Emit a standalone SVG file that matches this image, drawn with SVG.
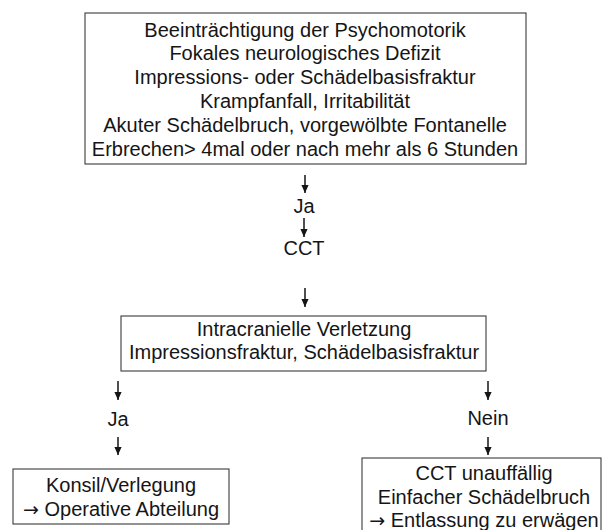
<svg xmlns="http://www.w3.org/2000/svg" width="603" height="530" viewBox="0 0 603 530">
  <style>
    .box { fill: #ffffff; stroke: #3a3a3a; stroke-width: 1.1; }
    .t { font-family: "Liberation Sans", Arial, sans-serif; font-size: 20px; fill: #151515; text-anchor: middle; }
    .arr { font-family: "DejaVu Sans", sans-serif; font-size: 19px; }
    .conn { stroke: #151515; stroke-width: 1.5; fill: none; marker-end: url(#ah); }
  </style>
  <defs>
    <marker id="ah" markerWidth="8" markerHeight="8" refX="8" refY="4" orient="auto" markerUnits="userSpaceOnUse">
      <path d="M0,0.4 L8,4 L0,7.6 z" fill="#151515"/>
    </marker>
  </defs>
  <rect width="603" height="530" fill="#ffffff"/>

  <g id="criteria">
    <rect class="box" x="85" y="13" width="441" height="151"/>
    <text class="t" x="305" y="36.5">Beeinträchtigung der Psychomotorik</text>
    <text class="t" x="305" y="60.4">Fokales neurologisches Defizit</text>
    <text class="t" x="305" y="84.3">Impressions- oder Schädelbasisfraktur</text>
    <text class="t" x="305" y="108.2">Krampfanfall, Irritabilität</text>
    <text class="t" x="305" y="132.1">Akuter Schädelbruch, vorgewölbte Fontanelle</text>
    <text class="t" x="305" y="156">Erbrechen&gt; 4mal oder nach mehr als 6 Stunden</text>
  </g>

  <g id="ja1">
    <text class="t" x="304" y="212.7">Ja</text>
  </g>

  <g id="cct">
    <text class="t" x="304" y="255">CCT</text>
  </g>

  <g id="verletzung">
    <rect class="box" x="121" y="316" width="365" height="55"/>
    <text class="t" x="304" y="336">Intracranielle Verletzung</text>
    <text class="t" x="304" y="358.5">Impressionsfraktur, Schädelbasisfraktur</text>
  </g>

  <g id="ja2">
    <text class="t" x="118" y="426">Ja</text>
  </g>

  <g id="nein">
    <text class="t" x="488" y="425">Nein</text>
  </g>

  <g id="konsil">
    <rect class="box" x="13" y="469" width="216" height="55"/>
    <text class="t" x="121" y="491.7">Konsil/Verlegung</text>
    <text class="t" x="121" y="516"><tspan class="arr">→</tspan> Operative Abteilung</text>
  </g>

  <g id="entlassung">
    <rect class="box" x="362" y="458" width="239" height="82"/>
    <text class="t" x="484" y="480">CCT unauffällig</text>
    <text class="t" x="484" y="503.5">Einfacher Schädelbruch</text>
    <text class="t" x="484" y="527"><tspan class="arr">→</tspan> Entlassung zu erwägen</text>
  </g>

  <g id="connectors">
    <line class="conn" x1="305" y1="175" x2="305" y2="193"/>
    <line class="conn" x1="304" y1="218" x2="304" y2="237"/>
    <line class="conn" x1="305" y1="288" x2="305" y2="307"/>
    <line class="conn" x1="118" y1="381" x2="118" y2="400"/>
    <line class="conn" x1="118" y1="437" x2="118" y2="455"/>
    <line class="conn" x1="488" y1="381" x2="488" y2="400"/>
    <line class="conn" x1="488" y1="437" x2="488" y2="455"/>
  </g>
</svg>
